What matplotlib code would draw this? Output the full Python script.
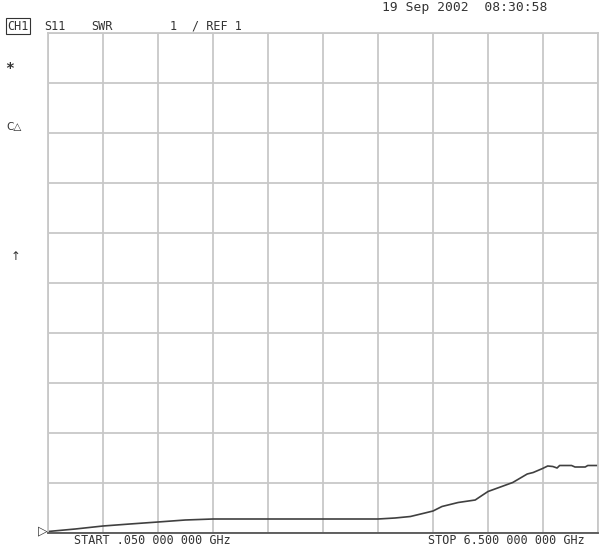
import numpy as np
from matplotlib import pyplot as plt

# S11 SWR trace (GHz, SWR)
freq = [0.05, 0.37, 0.695, 1.01, 1.34, 1.66, 1.985, 3.0, 3.92, 4.12, 4.30, 4.47,
        4.565, 4.67, 4.86, 5.06, 5.13, 5.21, 5.50, 5.67, 5.74, 5.85, 5.91, 5.97,
        6.02, 6.05, 6.19, 6.23, 6.35, 6.38, 6.50]
swr = [1.03, 1.08, 1.14, 1.18, 1.22, 1.26, 1.28, 1.28, 1.28, 1.30, 1.33, 1.40,
       1.44, 1.53, 1.61, 1.66, 1.74, 1.83, 2.01, 2.18, 2.21, 2.29, 2.34, 2.33,
       2.30, 2.35, 2.35, 2.32, 2.32, 2.35, 2.35]

f_start, f_stop = 0.05, 6.5
ref_val, scale = 1, 1
ndiv = 10

c_grid = '#c8c8c8'
c_trace = '#404040'
mono = 'DejaVu Sans Mono'
fs = 8.5

fig = plt.figure(figsize=(6.13, 5.47), dpi=100)
ax = fig.add_axes([48/613, 14/547, 550/613, 500/547])

ax.plot(freq, swr, color=c_trace, linewidth=1.2)

ax.set_xlim(f_start, f_stop)
ax.set_ylim(ref_val, ref_val + ndiv*scale)
ax.set_xticks(np.linspace(f_start, f_stop, ndiv + 1))
ax.set_yticks(np.linspace(ref_val, ref_val + ndiv*scale, ndiv + 1))
ax.grid(color=c_grid, linewidth=1.3)
ax.tick_params(length=0, labelbottom=False, labelleft=False)
for s in ['top', 'right', 'left']:
    ax.spines[s].set_color(c_grid)
    ax.spines[s].set_linewidth(1.3)
ax.spines['bottom'].set_color('#555555')
ax.spines['bottom'].set_linewidth(1.3)

# reference marker at left edge
ax.text(-0.001, 0.004, '\u25b7', transform=ax.transAxes, ha='right', va='center',
        fontsize=9, color='#333333', family='DejaVu Sans')

# header texts
fig.text(7/613, 1 - 26/547, 'CH1', fontsize=fs, family=mono, va='center', color='#333333',
         bbox=dict(boxstyle='square,pad=0.1', fc='white', ec='#333333', lw=0.8))
fig.text(44/613, 1 - 26/547, 'S11', fontsize=fs, family=mono, va='center', color='#333333')
fig.text(91/613, 1 - 26/547, 'SWR', fontsize=fs, family=mono, va='center', color='#333333')
fig.text(170/613, 1 - 26/547, '1', fontsize=fs, family=mono, va='center', color='#333333')
fig.text(192/613, 1 - 26/547, '/ REF 1', fontsize=fs, family=mono, va='center', color='#333333')
fig.text(382/613, 1 - 8/547, '19 Sep 2002  08:30:58', fontsize=9.4, family=mono,
         va='center', color='#333333')

# left side annotations
fig.text(10/613, 1 - 69/547, '*', fontsize=fs + 2, family=mono, va='center', ha='center',
         color='#333333', fontweight='bold')
fig.text(6/613, 1 - 127/547, 'C\u25b3', fontsize=fs - 1, family='DejaVu Sans', va='center',
         color='#333333')
fig.text(16/613, 1 - 257/547, '\u2191', fontsize=fs, family='DejaVu Sans', va='center',
         ha='center', color='#333333')

# start / stop
fig.text(74/613, 1 - 541/547, 'START .050 000 000 GHz', fontsize=fs, family=mono,
         va='center', color='#333333')
fig.text(428/613, 1 - 541/547, 'STOP 6.500 000 000 GHz', fontsize=fs, family=mono,
         va='center', color='#333333')

fig.savefig('out.png', dpi=100)
